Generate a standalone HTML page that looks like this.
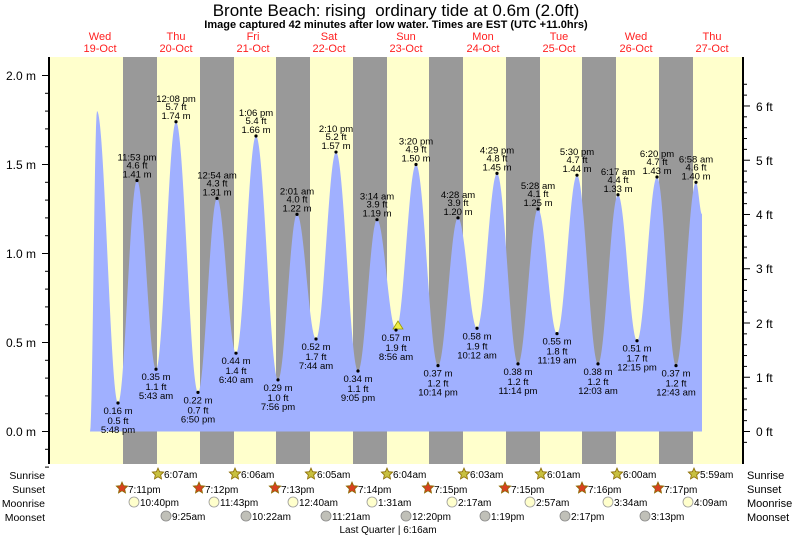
<!DOCTYPE html>
<html><head><meta charset="utf-8"><style>
body{margin:0;background:#fff;}
svg{display:block;font-family:"Liberation Sans",sans-serif;}
</style></head><body>
<svg id="s" width="793" height="537" viewBox="0 0 793 537" xmlns="http://www.w3.org/2000/svg">
<rect x="49" y="57" width="694" height="407" fill="#ffffcc"/>
<g fill="#999999">
<rect x="123" y="57" width="34" height="407"/><rect x="200" y="57" width="34" height="407"/>
<rect x="276" y="57" width="34" height="407"/><rect x="353" y="57" width="34" height="407"/>
<rect x="429" y="57" width="34" height="407"/><rect x="506" y="57" width="34" height="407"/>
<rect x="582" y="57" width="34" height="407"/><rect x="659" y="57" width="34" height="407"/>
</g>
<path id="tide" fill="#a0b0ff" d=""/>
<polygon points="393,329 398,321 403,329" fill="#eeee44" stroke="#999900" stroke-width="0.8"/>
<g id="ticks" stroke="#000"></g>
<line x1="49" y1="57" x2="49" y2="464" stroke="#000" stroke-width="2"/>
<line x1="743" y1="57" x2="743" y2="464" stroke="#000" stroke-width="2"/>
<text x="396" y="16" font-size="17" text-anchor="middle">Bronte Beach: rising&#160; ordinary tide at 0.6m (2.0ft)</text>
<text x="396" y="28" font-size="11" font-weight="bold" text-anchor="middle">Image captured 42 minutes after low water. Times are EST (UTC +11.0hrs)</text>
<g fill="#ff2020" font-size="11" text-anchor="middle">
<text x="100" y="40">Wed</text><text x="100" y="52">19-Oct</text>
<text x="176" y="40">Thu</text><text x="176" y="52">20-Oct</text>
<text x="253" y="40">Fri</text><text x="253" y="52">21-Oct</text>
<text x="329" y="40">Sat</text><text x="329" y="52">22-Oct</text>
<text x="406" y="40">Sun</text><text x="406" y="52">23-Oct</text>
<text x="483" y="40">Mon</text><text x="483" y="52">24-Oct</text>
<text x="559" y="40">Tue</text><text x="559" y="52">25-Oct</text>
<text x="636" y="40">Wed</text><text x="636" y="52">26-Oct</text>
<text x="712" y="40">Thu</text><text x="712" y="52">27-Oct</text>
</g>
<g font-size="12" text-anchor="end">
<text x="36" y="436">0.0 m</text><text x="36" y="347">0.5 m</text><text x="36" y="258">1.0 m</text><text x="36" y="169">1.5 m</text><text x="36" y="80">2.0 m</text>
</g>
<g font-size="12">
<text x="756" y="436">0 ft</text><text x="756" y="382">1 ft</text><text x="756" y="328">2 ft</text><text x="756" y="273">3 ft</text><text x="756" y="219">4 ft</text><text x="756" y="165">5 ft</text><text x="756" y="111">6 ft</text>
</g>
<g id="labels" font-size="9.5" text-anchor="middle" fill="#000"></g>
<g font-size="10.5" text-anchor="end">
<text x="45" y="479">Sunrise</text><text x="45" y="493">Sunset</text><text x="45" y="507">Moonrise</text><text x="45" y="521">Moonset</text>
</g>
<g font-size="11">
<text x="747" y="479">Sunrise</text><text x="747" y="493">Sunset</text><text x="747" y="507">Moonrise</text><text x="747" y="521">Moonset</text>
</g>
<g id="astro" font-size="10"></g>
<text x="388" y="533" font-size="10" text-anchor="middle">Last Quarter | 6:16am</text>
</svg>
<script>
var pts=[[90,0],[97,1.8],[118,0.16],[137,1.41],[156,0.35],[176,1.74],[198,0.22],[217,1.31],[236,0.44],[256,1.66],[278,0.29],[297,1.22],[316,0.52],[336,1.57],[358,0.34],[377,1.19],[396,0.57],[416,1.50],[438,0.37],[458,1.20],[477,0.58],[497,1.45],[518,0.38],[538,1.25],[557,0.55],[577,1.44],[598,0.38],[618,1.33],[637,0.51],[657,1.43],[676,0.37],[696,1.40],[702,1.22]];
function Y(h){return 431.5-178*h;}
var d="M90,431.5";
for(var i=0;i<pts.length-1;i++){var a=pts[i],b=pts[i+1];for(var x=a[0];x<=b[0];x+=0.5){var t=(x-a[0])/(b[0]-a[0]);var h=a[1]+(b[1]-a[1])*(1-Math.cos(Math.PI*t))/2;d+="L"+x+","+Y(h).toFixed(1);}}
d+="L702,431.5Z";document.getElementById("tide").setAttribute("d",d);
var NS="http://www.w3.org/2000/svg";
function el(p,tag,at,txt){var e=document.createElementNS(NS,tag);for(var k in at)e.setAttribute(k,at[k]);if(txt)e.textContent=txt;p.appendChild(e);return e;}
var tk=document.getElementById("ticks");
for(var m=0;m<=20;m++){var y=Y(m/10);if(y<57)break;el(tk,"line",{x1:m%5?45:42,x2:49,y1:y,y2:y});}
el(tk,"line",{x1:45,x2:49,y1:Y(-0.1),y2:Y(-0.1)});el(tk,"line",{x1:45,x2:49,y1:Y(-0.2),y2:Y(-0.2)});
for(var f=-1;f<=32;f++){var y=431.5-f*0.2*0.3048*178;if(y<57||y>464)continue;el(tk,"line",{x1:743,x2:f%5?747:750,y1:y,y2:y});}
var L=document.getElementById("labels");
var info=[[118,.16,"0.16 m","0.5 ft","5:48 pm"],[137,1.41,"1.41 m","4.6 ft","11:53 pm"],[156,.35,"0.35 m","1.1 ft","5:43 am"],[176,1.74,"1.74 m","5.7 ft","12:08 pm"],[198,.22,"0.22 m","0.7 ft","6:50 pm"],[217,1.31,"1.31 m","4.3 ft","12:54 am"],[236,.44,"0.44 m","1.4 ft","6:40 am"],[256,1.66,"1.66 m","5.4 ft","1:06 pm"],[278,.29,"0.29 m","1.0 ft","7:56 pm"],[297,1.22,"1.22 m","4.0 ft","2:01 am"],[316,.52,"0.52 m","1.7 ft","7:44 am"],[336,1.57,"1.57 m","5.2 ft","2:10 pm"],[358,.34,"0.34 m","1.1 ft","9:05 pm"],[377,1.19,"1.19 m","3.9 ft","3:14 am"],[396,.57,"0.57 m","1.9 ft","8:56 am"],[416,1.50,"1.50 m","4.9 ft","3:20 pm"],[438,.37,"0.37 m","1.2 ft","10:14 pm"],[458,1.20,"1.20 m","3.9 ft","4:28 am"],[477,.58,"0.58 m","1.9 ft","10:12 am"],[497,1.45,"1.45 m","4.8 ft","4:29 pm"],[518,.38,"0.38 m","1.2 ft","11:14 pm"],[538,1.25,"1.25 m","4.1 ft","5:28 am"],[557,.55,"0.55 m","1.8 ft","11:19 am"],[577,1.44,"1.44 m","4.7 ft","5:30 pm"],[598,.38,"0.38 m","1.2 ft","12:03 am"],[618,1.33,"1.33 m","4.4 ft","6:17 am"],[637,.51,"0.51 m","1.7 ft","12:15 pm"],[657,1.43,"1.43 m","4.7 ft","6:20 pm"],[676,.37,"0.37 m","1.2 ft","12:43 am"],[696,1.40,"1.40 m","4.6 ft","6:58 am"]];
info.forEach(function(r,i){var y=Y(r[1]);el(L,"circle",{cx:r[0],cy:y,r:1.6});var hi=i%2==1;
if(hi){el(L,"text",{x:r[0],y:y-20},r[4]);el(L,"text",{x:r[0],y:y-12},r[3]);el(L,"text",{x:r[0],y:y-3},r[2]);}
else{el(L,"text",{x:r[0],y:y+11},r[2]);el(L,"text",{x:r[0],y:y+21},r[3]);el(L,"text",{x:r[0],y:y+30},r[4]);}});
var A=document.getElementById("astro");
function star(cx,cy,fill){var p="";for(var k=0;k<10;k++){var r=k%2?2.8:6,a=-Math.PI/2+k*Math.PI/5;p+=(cx+r*Math.cos(a)).toFixed(1)+","+(cy+r*Math.sin(a)).toFixed(1)+" ";}el(A,"polygon",{points:p,fill:fill,stroke:"#8a6a00","stroke-width":0.8});}
[[158,"6:07am"],[235,"6:06am"],[311,"6:05am"],[387,"6:04am"],[464,"6:03am"],[541,"6:01am"],[617,"6:00am"],[694,"5:59am"]].forEach(function(s){star(s[0],474,"#c8c040");el(A,"text",{x:s[0]+6,y:478},s[1]);});
[[122,"7:11pm"],[199,"7:12pm"],[275,"7:13pm"],[352,"7:14pm"],[428,"7:15pm"],[505,"7:15pm"],[582,"7:16pm"],[658,"7:17pm"]].forEach(function(s){star(s[0],488,"#d84020");el(A,"text",{x:s[0]+6,y:493},s[1]);});
[[134,"10:40pm"],[214,"11:43pm"],[293,"12:40am"],[372,"1:31am"],[452,"2:17am"],[530,"2:57am"],[608,"3:34am"],[688,"4:09am"]].forEach(function(s){el(A,"circle",{cx:s[0],cy:502,r:5,fill:"#ffffcc",stroke:"#999","stroke-width":0.8});el(A,"text",{x:s[0]+6,y:506},s[1]);});
[[166,"9:25am"],[246,"10:22am"],[326,"11:21am"],[406,"12:20pm"],[485,"1:19pm"],[565,"2:17pm"],[645,"3:13pm"]].forEach(function(s){el(A,"circle",{cx:s[0],cy:516,r:5,fill:"#c0c0b8",stroke:"#888","stroke-width":0.8});el(A,"text",{x:s[0]+6,y:520},s[1]);});
</script>
</body></html>
